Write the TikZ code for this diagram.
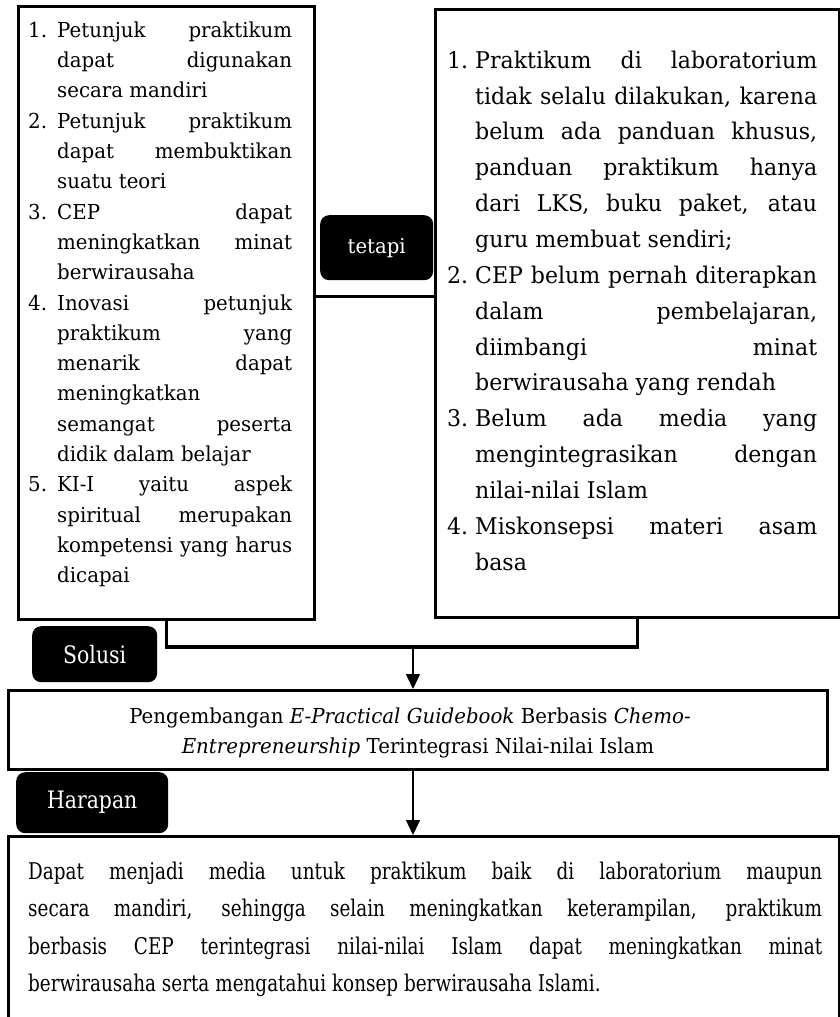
\documentclass[tikz,border=0pt]{standalone}
\usepackage{fontspec}
\setmainfont{DejaVu Serif}[FakeStretch=0.96]
\newfontfamily\narrowserif{DejaVu Serif}[FakeStretch=0.85]
\newfontfamily\bodyserif{DejaVu Serif}[FakeStretch=0.8]
\usetikzlibrary{arrows.meta}

\begin{document}
\begin{tikzpicture}[x=1pt,y=-1pt,
  frame/.style={draw=black, line width=2.6pt, inner sep=0pt, anchor=north west},
  tag/.style={fill=black, rounded corners=9pt, text=white, inner sep=0pt, anchor=north west},
  listL/.style={anchor=base west, inner sep=0pt, font=\fontsize{20.6}{24}\selectfont},
  listR/.style={anchor=base west, inner sep=0pt, font=\fontsize{23}{27}\selectfont},
  midtext/.style={anchor=base, inner sep=0pt, font=\fontsize{20.6}{24}\selectfont},
  bottext/.style={anchor=base west, inner sep=0pt, font=\bodyserif\fontsize{23}{27}\selectfont},
  bracket/.style={line width=3.5pt},
  link/.style={line width=1.3pt, -{Triangle[length=15pt,width=14pt]}}]

\useasboundingbox (0,0) rectangle (840,1017);
\clip (0,0) rectangle (840,1017);
\fill[white] (0,0) rectangle (840,1017);

% boxes
\node[frame, minimum width=296pt, minimum height=613pt] (L) at (17,5) {};
\node[frame, minimum width=404pt, minimum height=608pt] (R) at (434,8) {};
\node[frame, minimum width=819pt, minimum height=79pt] (M) at (7,689) {};
\node[frame, minimum width=831pt, minimum height=220pt] (B) at (7,835) {};

% black tags
\node[tag, minimum width=113pt, minimum height=65pt, font=\fontsize{20.5}{24}\selectfont] (T) at (320,215) {tetapi};
\node[tag, minimum width=125pt, minimum height=56pt, font=\narrowserif\fontsize{24}{28}\selectfont] (S) at (32,626) {Solusi};
\node[tag, minimum width=152pt, minimum height=61pt, font=\narrowserif\fontsize{24}{28}\selectfont] (H) at (16,772) {Harapan};

% connectors
\coordinate (tj) at (370,296);
\coordinate (jn) at (413,647);
\draw[line width=3pt] (L.east |- tj) -- (R.west |- tj);
\draw[bracket] (L.south) -- (L.south |- jn) -| (R.south);
\draw[link] (jn) -- (jn |- M.north);
\draw[link] (jn |- M.south) -- (jn |- B.north);

% left list
\foreach \numb/\algn/\words [count=\i from 0] in {
  1./s/{Petunjuk praktikum},
  /s/{dapat digunakan},
  /l/{secara mandiri},
  2./s/{Petunjuk praktikum},
  /s/{dapat membuktikan},
  /l/{suatu teori},
  3./s/{CEP dapat},
  /s/{meningkatkan minat},
  /l/{berwirausaha},
  4./s/{Inovasi petunjuk},
  /s/{praktikum yang},
  /s/{menarik dapat},
  /l/{meningkatkan},
  /s/{semangat peserta},
  /l/{didik dalam belajar},
  5./s/{KI-I yaitu aspek},
  /s/{spiritual merupakan},
  /s/{kompetensi yang harus},
  /l/{dicapai}}
  \node[listL] (l\i) at (28,{37.3+30.3*\i}) {\makebox[29pt][l]{\numb}\makebox[235pt][\algn]{\words}};

% right list
\foreach \numb/\algn/\words [count=\i from 0] in {
  1./s/{Praktikum di laboratorium},
  /s/{tidak selalu dilakukan, karena},
  /s/{belum ada panduan khusus,},
  /s/{panduan praktikum hanya},
  /s/{dari LKS, buku paket, atau},
  /l/{guru membuat sendiri;},
  2./s/{CEP belum pernah diterapkan},
  /s/{dalam pembelajaran,},
  /s/{diimbangi minat},
  /l/{berwirausaha yang rendah},
  3./s/{Belum ada media yang},
  /s/{mengintegrasikan dengan},
  /l/{nilai-nilai Islam},
  4./s/{Miskonsepsi materi asam},
  /l/{basa}}
  \node[listR] (r\i) at (447,{68.3+35.84*\i}) {\makebox[28pt][l]{\numb}\makebox[342pt][\algn]{\words}};

% solution text
\node[midtext] (m1) at (410,723) {Pengembangan \textit{E-Practical Guidebook} Berbasis \textit{Chemo-}};
\node[midtext] (m2) at (418,753) {\textit{Entrepreneurship} Terintegrasi Nilai-nilai Islam};

% expectation text
\foreach \algn/\words [count=\i from 0] in {
  s/{Dapat menjadi media untuk praktikum baik di laboratorium maupun},
  s/{secara mandiri, sehingga selain meningkatkan keterampilan, praktikum},
  s/{berbasis CEP terintegrasi nilai-nilai Islam dapat meningkatkan minat},
  l/{berwirausaha serta mengatahui konsep berwirausaha Islami.}}
  \node[bottext] (b\i) at (28,{879+37.5*\i}) {\makebox[794pt][\algn]{\words}};
\end{tikzpicture}
\end{document}
